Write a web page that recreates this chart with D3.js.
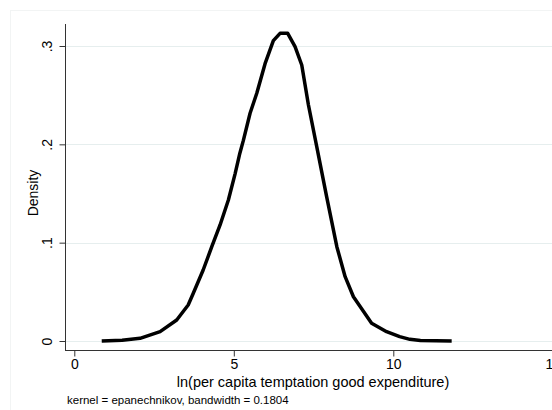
<!DOCTYPE html>
<html>
<head>
<meta charset="utf-8">
<script src="https://cdn.jsdelivr.net/npm/d3@7"></script>
<style>
body { margin: 0; background: #fff; }
text { font-family: "Liberation Sans", Arial, sans-serif; fill: #000; }
</style>
</head>
<body>
<div id="chart"></div>
<script>
// kernel density estimate
var xs = [0.86, 1.5, 2.06, 2.69, 3.21, 3.57, 3.73, 4.04, 4.31, 4.57, 4.83, 5.04, 5.19, 5.30, 5.51, 5.72, 5.98, 6.24, 6.45, 6.69, 6.92, 7.13, 7.34, 7.60, 7.91, 8.23, 8.49, 8.75, 9.32, 9.79, 10.2, 10.52, 10.85, 11.83]
var dens = [0, 0.0008, 0.0027, 0.0095, 0.0214, 0.0366, 0.0485, 0.0722, 0.0959, 0.118, 0.1434, 0.170, 0.191, 0.204, 0.2316, 0.252, 0.282, 0.3054, 0.3129, 0.3129, 0.2993, 0.2807, 0.240, 0.1976, 0.1468, 0.0959, 0.0654, 0.045, 0.018, 0.0095, 0.0044, 0.0017, 0.0005, 0]
var xTicks = [0, 5, 10, 15]
var yTicks = [0, 0.1, 0.2, 0.3]
var yTickLabels = ["0", ".1", ".2", ".3"]

var width = 552, height = 410

var svg = d3.select('#chart')
    .append('svg')
    .attr('width', width)
    .attr('height', height)

// faint outer graph region
svg.append('rect')
    .attr('x', 10.5).attr('y', 10.5)
    .attr('width', width).attr('height', height)
    .style('fill', 'none')
    .style('stroke', '#f2f4f4')

var scaleX = d3.scaleLinear().domain([0, 5]).range([74.3, 233.8])
var scaleY = d3.scaleLinear().domain([0, 0.3]).range([341, 46])

var plotLeft = 65, plotTop = 24, plotBottom = 350

// gridlines
svg.append('g')
    .selectAll('line')
    .data(yTicks)
    .enter()
    .append('line')
    .attr('x1', plotLeft).attr('x2', width)
    .attr('y1', function(d) { return Math.round(scaleY(d)) + 0.5 })
    .attr('y2', function(d) { return Math.round(scaleY(d)) + 0.5 })
    .style('stroke', '#e6eeee')
    .style('stroke-width', 1)

// y axis
var yAxisG = svg.append('g')
    .attr('transform', 'translate(' + (plotLeft + 0.5) + ',0)')
    .call(d3.axisLeft(scaleY)
        .tickValues(yTicks)
        .tickSize(6)
        .tickPadding(4)
        .tickFormat(function(d, i) { return yTickLabels[i] }))
yAxisG.select('.domain').attr('d', 'M0,' + plotTop + 'V' + (plotBottom + 0.5)).style('stroke', '#333')
yAxisG.selectAll('.tick line').style('stroke', '#333')
yAxisG.selectAll('.tick text')
    .attr('x', 0).attr('dy', null)
    .attr('transform', 'translate(-14,0) rotate(-90)')
    .attr('text-anchor', 'middle')
    .style('font-size', '14px')

// x axis
var xAxisG = svg.append('g')
    .attr('transform', 'translate(0,' + (plotBottom + 0.5) + ')')
    .call(d3.axisBottom(scaleX)
        .tickValues(xTicks)
        .tickSize(6)
        .tickPadding(3)
        .tickFormat(d3.format('d')))
xAxisG.select('.domain').attr('d', 'M' + plotLeft + ',0H' + width).style('stroke', '#333')
xAxisG.selectAll('.tick line').style('stroke', '#333')
xAxisG.selectAll('.tick text').style('font-size', '14px')

// titles
svg.append('text')
    .attr('transform', 'translate(38,193) rotate(-90)')
    .attr('text-anchor', 'middle')
    .style('font-size', '14px')
    .text('Density')

svg.append('text')
    .attr('x', 313).attr('y', 387)
    .attr('text-anchor', 'middle')
    .style('font-size', '14.5px')
    .text('ln(per capita temptation good expenditure)')

svg.append('text')
    .attr('x', 67).attr('y', 404)
    .style('font-size', '11.5px')
    .text('kernel = epanechnikov, bandwidth = 0.1804')

// density line
var line = d3.line()
    .x(function(d, i) { return scaleX(xs[i]) })
    .y(function(d) { return scaleY(d) })

svg.append('path')
    .datum(dens)
    .attr('d', line)
    .style('fill', 'none')
    .style('stroke', '#000')
    .style('stroke-width', 3.5)
    .style('stroke-linejoin', 'round')
</script>
</body>
</html>
